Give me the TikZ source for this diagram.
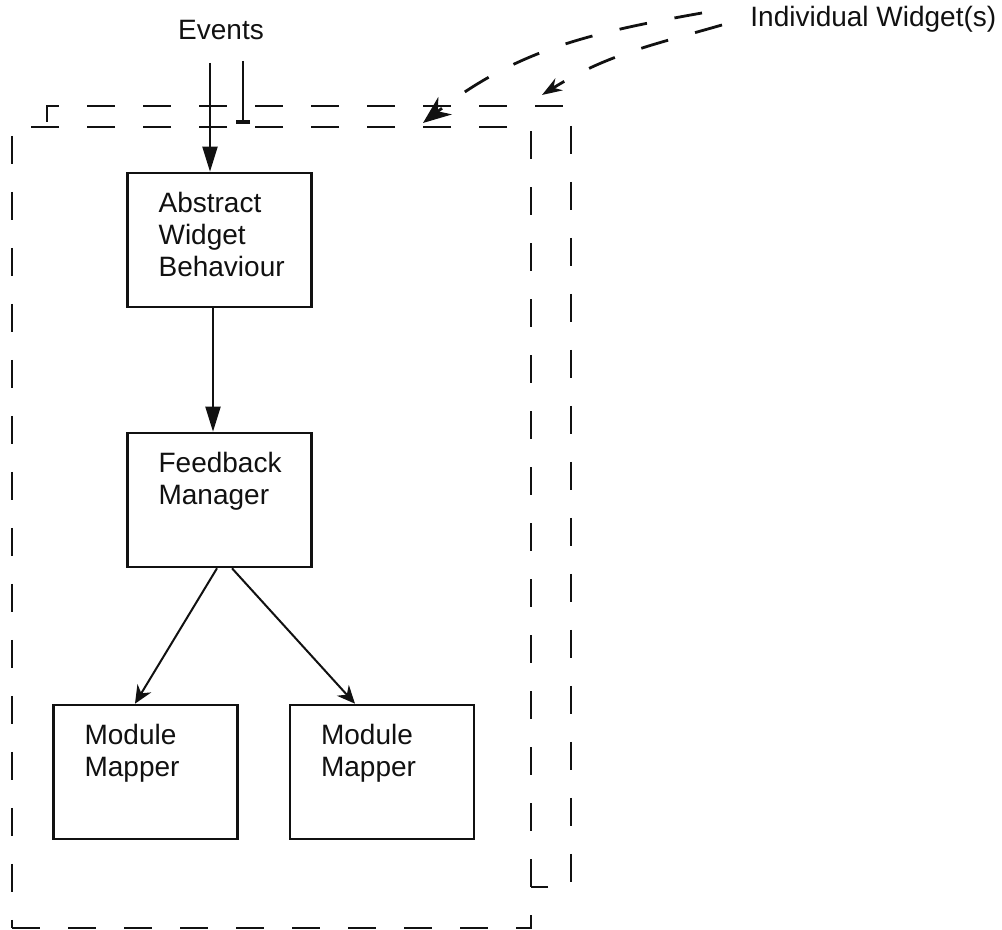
\documentclass[tikz,border=0pt]{standalone}
\usepackage{fontspec}
\setmainfont{Liberation Sans}
\usepackage{xcolor}
\definecolor{ink}{HTML}{111111}
\usetikzlibrary{arrows.meta,positioning}

\begin{document}
\begin{tikzpicture}[x=0.5pt,y=0.5pt,
  box/.style={draw=ink,line width=1.3pt,minimum width=92pt,minimum height=67pt,inner sep=0pt},
  txt/.style={text=ink,font=\fontsize{14}{16}\selectfont,align=left,inner sep=0pt},
  outline/.style={draw=ink,line width=1.4pt,dash pattern=on 14pt off 14pt},
  flow/.style={draw=ink,line width=1pt,-{Triangle[length=12.5pt,width=7.5pt]}},
  split/.style={draw=ink,line width=1pt,-{Stealth[length=9pt,width=8pt]}}]
  \useasboundingbox (0,0) rectangle (1002,930);

  % Widget outlines (front one closed, the one behind only peeks out)
  \draw[outline] (12,2) -- (531,2) -- (531,803) -- (12,803) -- cycle;
  \draw[outline] (47,808) -- (47,824) -- (571,824) -- (571,43) -- (531,43);

  % Component boxes
  \node[box] (awb) at (219.5,690) {};
  \node[box] (fbm) at (219.5,430) {};
  \node[box] (mm1) at (145.5,158) {};
  \node[box] (mm2) at (382,158) {};

  % Box texts, top left in each box
  \node[txt,below right=10pt and 16pt of awb.north west] (awbtext) {Abstract\\Widget\\Behaviour};
  \node[txt,below right=10pt and 16pt of fbm.north west] (fbmtext) {Feedback\\Manager};
  \node[txt,below right=10pt and 16pt of mm1.north west] (mm1text) {Module\\Mapper};
  \node[txt,below right=10pt and 16pt of mm2.north west] (mm2text) {Module\\Mapper};

  % Incoming events
  \node[txt,anchor=base] (events) at (221,890) {Events};
  \coordinate (ev1) at (210,867);
  \coordinate (ev2) at (243,869);
  \coordinate (ev2end) at (243,806);
  \draw[flow] (ev1) -- (ev1 |- awb.north);
  \draw[draw=ink,line width=1pt,-{Bar[width=7pt,line width=2pt]}] (ev2) -- (ev2end);

  % Flow between components
  \draw[flow] ([xshift=-3.25pt]awb.south) -- ([xshift=-3.25pt]fbm.north);
  \draw[split] ([xshift=-1.25pt]fbm.south) -- ([xshift=-5.25pt]mm1.north);
  \draw[split] ([xshift=6.25pt]fbm.south) -- ([xshift=-13.5pt]mm2.north);

  % Label pointing at the widget outlines
  \node[txt,anchor=base west] (iw) at (750,903) {Individual Widget(s)};
  \coordinate (iw1) at (702,917);
  \coordinate (iw2) at (722,905);
  \coordinate (hit1) at (423,807);
  \coordinate (hit2) at (542,835);
  \draw[outline,-{Stealth[length=14pt,width=11pt]}] (iw1) to[out=190,in=38] (hit1);
  \draw[outline,-{Stealth[length=10pt,width=7pt]}] (iw2) to[out=196,in=32] (hit2);
\end{tikzpicture}
\end{document}
